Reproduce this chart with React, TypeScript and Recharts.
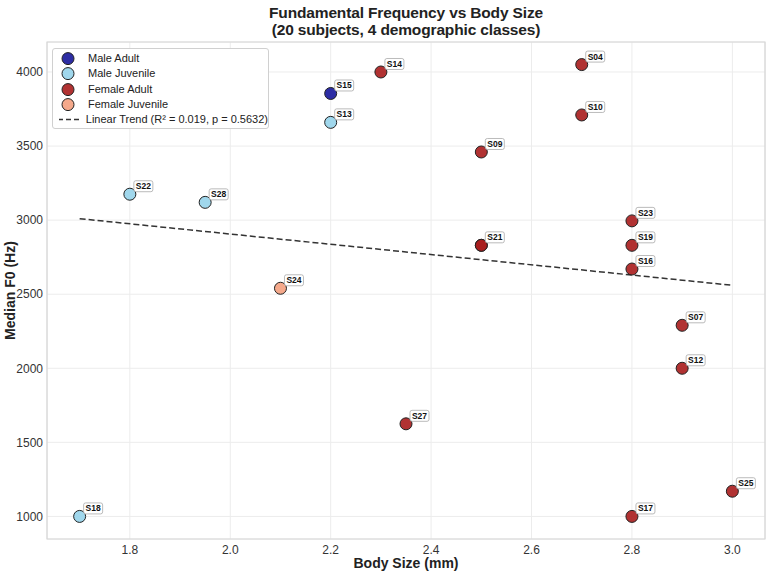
import {
  CartesianGrid,
  ReferenceArea,
  ReferenceLine,
  Scatter,
  ScatterChart,
  XAxis,
  YAxis,
} from 'recharts';

interface Subject {
  id: string;
  size: number;
  f0: number;
}

const maleAdult: Subject[] = [{ id: 'S15', size: 2.2, f0: 3855 }];

const maleJuvenile: Subject[] = [
  { id: 'S13', size: 2.2, f0: 3660 },
  { id: 'S22', size: 1.8, f0: 3175 },
  { id: 'S28', size: 1.95, f0: 3120 },
  { id: 'S18', size: 1.7, f0: 1000 },
];

// two subjects sit on the same spot at (2.5, 2830); only S21's tag shows
const femaleAdult: Subject[] = [
  { id: 'S14', size: 2.3, f0: 4000 },
  { id: 'S04', size: 2.7, f0: 4050 },
  { id: 'S10', size: 2.7, f0: 3710 },
  { id: 'S09', size: 2.5, f0: 3460 },
  { id: 'S23', size: 2.8, f0: 2995 },
  { id: '', size: 2.5, f0: 2830 },
  { id: 'S21', size: 2.5, f0: 2830 },
  { id: 'S19', size: 2.8, f0: 2830 },
  { id: 'S16', size: 2.8, f0: 2670 },
  { id: 'S07', size: 2.9, f0: 2290 },
  { id: 'S12', size: 2.9, f0: 2000 },
  { id: 'S27', size: 2.35, f0: 1625 },
  { id: 'S25', size: 3.0, f0: 1170 },
  { id: 'S17', size: 2.8, f0: 1000 },
];

const femaleJuvenile: Subject[] = [{ id: 'S24', size: 2.1, f0: 2540 }];

const trendX = [1.7, 3.0];
const trendY = [3010, 2560];

const xTicks = [1.8, 2.0, 2.2, 2.4, 2.6, 2.8, 3.0];
const yTicks = [1000, 1500, 2000, 2500, 3000, 3500, 4000];
const xDomain: [number, number] = [1.635, 3.065];
const yDomain: [number, number] = [847.5, 4202.5];

const groups = [
  { name: 'Male Adult', color: '#16169a', data: maleAdult },
  { name: 'Male Juvenile', color: '#96d3ea', data: maleJuvenile },
  { name: 'Female Adult', color: '#a81c1c', data: femaleAdult },
  { name: 'Female Juvenile', color: '#f4a07e', data: femaleJuvenile },
];

const trendLabel = 'Linear Trend (R\u00b2 = 0.019, p = 0.5632)';

const FONT = '"Liberation Sans", Arial, Helvetica, sans-serif';

// eslint-disable-next-line @typescript-eslint/no-explicit-any
function SubjectDot(props: any) {
  const { cx, cy, payload, fill } = props;
  return (
    <g>
      <circle
        cx={cx}
        cy={cy}
        r={6}
        fill={fill}
        fillOpacity={0.9}
        stroke="#222"
        strokeWidth={1}
      />
      {payload.id && (
        <g>
          <rect
            x={cx + 4}
            y={cy - 13.5}
            width={19}
            height={11}
            rx={2}
            fill="#fff"
            fillOpacity={0.9}
            stroke="#aaa"
            strokeWidth={0.8}
          />
          <text
            x={cx + 13.5}
            y={cy - 5}
            textAnchor="middle"
            fontSize={8.5}
            fontWeight="bold"
            fontFamily={FONT}
            fill="#111"
          >
            {payload.id}
          </text>
        </g>
      )}
    </g>
  );
}

function LegendBox() {
  return (
    <div
      style={{
        position: 'absolute',
        left: 52,
        top: 48,
        width: 217,
        height: 81,
        boxSizing: 'border-box',
        background: '#fff',
        border: '1px solid #d0d0d0',
        borderRadius: 3,
        padding: '2px 0 0 6px',
        fontFamily: FONT,
        fontSize: 11,
        color: '#222',
        lineHeight: '15.3px',
        whiteSpace: 'nowrap',
      }}
    >
      {groups.map(g => (
        <div key={g.name} style={{ display: 'flex', alignItems: 'center' }}>
          <svg width={24} height={15.3}>
            <circle
              cx={9}
              cy={7.6}
              r={6}
              fill={g.color}
              fillOpacity={0.9}
              stroke="#222"
            />
          </svg>
          <span style={{ marginLeft: 5 }}>{g.name}</span>
        </div>
      ))}
      <div style={{ display: 'flex', alignItems: 'center' }}>
        <svg width={24} height={15.3}>
          <line
            x1={-1}
            x2={20}
            y1={7.6}
            y2={7.6}
            stroke="#333"
            strokeWidth={1.5}
            strokeDasharray="5 3"
          />
        </svg>
        <span style={{ marginLeft: 5 }}>{trendLabel}</span>
      </div>
    </div>
  );
}

export default function App() {
  return (
    <div
      style={{
        position: 'absolute',
        left: 0,
        top: 0,
        width: 768,
        height: 573,
        background: '#fff',
        fontFamily: FONT,
      }}
    >
      <ScatterChart
        width={768}
        height={573}
        margin={{ top: 42, right: 3, bottom: 0, left: 0 }}
        style={{ position: 'absolute', left: 0, top: 0 }}
      >
        <CartesianGrid stroke="#ececec" />
        <ReferenceArea
          x1={xDomain[0]}
          x2={xDomain[1]}
          y1={yDomain[0]}
          y2={yDomain[1]}
          fill="none"
          stroke="#d6d6d6"
          strokeWidth={1.2}
          ifOverflow="visible"
        />
        <XAxis
          type="number"
          dataKey="size"
          domain={xDomain}
          ticks={xTicks}
          allowDataOverflow
          tickFormatter={(v: number) => v.toFixed(1)}
          axisLine={false}
          tickLine={false}
          tickSize={4}
          height={34}
          tick={{ fill: '#333', fontSize: 12, fontFamily: FONT }}
          label={{
            value: 'Body Size (mm)',
            position: 'insideBottom',
            offset: 5,
            fill: '#222',
            fontSize: 14,
            fontWeight: 'bold',
            fontFamily: FONT,
          }}
        />
        <YAxis
          type="number"
          dataKey="f0"
          domain={yDomain}
          ticks={yTicks}
          allowDataOverflow
          axisLine={false}
          tickLine={false}
          tickSize={4}
          tickMargin={0}
          width={47}
          tick={{ fill: '#333', fontSize: 12, fontFamily: FONT }}
          label={{
            value: 'Median F0 (Hz)',
            angle: -90,
            position: 'insideLeft',
            offset: 10,
            style: { textAnchor: 'middle' },
            fill: '#222',
            fontSize: 14,
            fontWeight: 'bold',
            fontFamily: FONT,
          }}
        />
        <ReferenceLine
          segment={[
            { x: trendX[0], y: trendY[0] },
            { x: trendX[1], y: trendY[1] },
          ]}
          stroke="#333"
          strokeWidth={1.5}
          strokeDasharray="6 3"
        />
        {groups.map(g => (
          <Scatter
            key={g.name}
            name={g.name}
            data={g.data}
            fill={g.color}
            shape={SubjectDot}
            isAnimationActive={false}
          />
        ))}
      </ScatterChart>
      <div
        style={{
          position: 'absolute',
          left: 47,
          width: 718,
          top: 4,
          textAlign: 'center',
          fontWeight: 'bold',
          fontSize: 15.5,
          letterSpacing: -0.15,
          lineHeight: '17px',
          color: '#222',
        }}
      >
        Fundamental Frequency vs Body Size
        <br />
        (20 subjects, 4 demographic classes)
      </div>
      <LegendBox />
    </div>
  );
}
